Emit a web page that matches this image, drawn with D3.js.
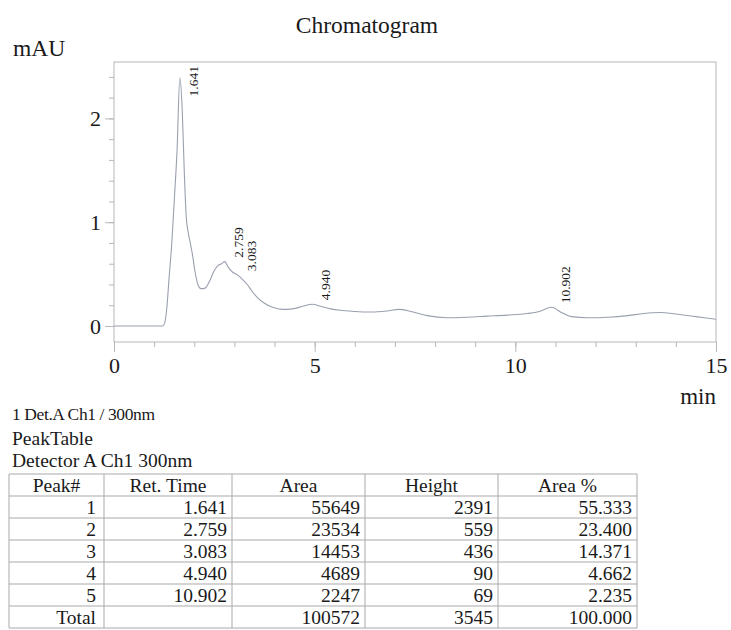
<!DOCTYPE html>
<html>
<head>
<meta charset="utf-8">
<script src="https://cdn.jsdelivr.net/npm/d3@7"></script>
<style>
  html, body { margin: 0; padding: 0; background: #ffffff; }
  svg { display: block; font-family: "Liberation Serif", "Times New Roman", serif; }
</style>
</head>
<body>
<svg id="chart" width="731" height="630"></svg>
<script>
// Detector trace: retention time (min) and absorbance (mAU)
const traceTime = [0, 0.6, 1.2, 1.24, 1.28, 1.32, 1.37, 1.44, 1.50, 1.57, 1.641, 1.70, 1.75, 1.80, 1.85, 1.90, 1.95,
  2.02, 2.09, 2.17, 2.27, 2.38, 2.48, 2.58, 2.68, 2.759, 2.84, 2.95, 3.083, 3.2, 3.32, 3.45, 3.58, 3.75, 3.95,
  4.2, 4.45, 4.7, 4.94, 5.15, 5.4, 5.7, 6.0, 6.4, 6.8, 7.1, 7.4, 7.8, 8.3, 8.8, 9.3, 9.8, 10.3, 10.6, 10.902,
  11.15, 11.4, 11.8, 12.3, 12.8, 13.2, 13.6, 14.0, 14.5, 15.0];
const traceAbs = [0, 0, 0, 0.01, 0.06, 0.19, 0.45, 0.8, 1.2, 1.68, 2.391, 2.08, 1.5, 1.05, 0.9, 0.8, 0.7,
  0.52, 0.4, 0.36, 0.365, 0.43, 0.52, 0.58, 0.6, 0.62, 0.57, 0.52, 0.49, 0.45, 0.4, 0.33, 0.27, 0.22, 0.18,
  0.16, 0.165, 0.19, 0.21, 0.19, 0.165, 0.15, 0.14, 0.135, 0.145, 0.16, 0.14, 0.1, 0.08, 0.085, 0.095, 0.105, 0.12, 0.14, 0.18,
  0.13, 0.09, 0.08, 0.085, 0.1, 0.12, 0.13, 0.115, 0.09, 0.065];

// Peak table
const peakNo = [1, 2, 3, 4, 5];
const retTimes = [1.641, 2.759, 3.083, 4.940, 10.902];
const areas = [55649, 23534, 14453, 4689, 2247];
const heights = [2391, 559, 436, 90, 69];
const areaPct = [55.333, 23.400, 14.371, 4.662, 2.235];
const totalRow = ["Total", "", "100572", "3545", "100.000"];
const tableHeaders = ["Peak#", "Ret. Time", "Area", "Height", "Area %"];

// Axis ticks
const xMajorTicks = [0, 5, 10, 15];
const xMinorTicks = d3.range(0, 16, 1);
const yMajorTicks = [0, 1, 2];
const yMinorTicks = d3.range(0, 2.41, 0.2);

const svg = d3.select("#chart");
const ink = "#1a1a1a";
const frameColor = "#b8b8b8";

const plot = { left: 114, right: 716, top: 62, bottom: 342 };

const x = d3.scaleLinear().domain([0, 15]).range([plot.left, plot.right]);
const yBase = d3.scaleLinear().domain([0, 2]).range([326, 118.4]);
const y = d3.scaleLinear()
  .domain([yBase.invert(plot.bottom), yBase.invert(plot.top)])
  .range([plot.bottom, plot.top]);

// Titles
svg.append("text").attr("x", 367).attr("y", 33).attr("text-anchor", "middle")
  .attr("font-size", 23.5).attr("fill", ink).text("Chromatogram");
svg.append("text").attr("x", 13).attr("y", 56)
  .attr("font-size", 23.5).attr("fill", ink).text("mAU");

// Frame
svg.append("rect")
  .attr("x", plot.left).attr("y", plot.top)
  .attr("width", plot.right - plot.left).attr("height", plot.bottom - plot.top)
  .attr("fill", "none").attr("stroke", frameColor).attr("stroke-width", 1);

// Y axis: minor ticks, then major ticks with labels
const yMinorAxis = d3.axisLeft(y).tickValues(yMinorTicks).tickSize(5).tickFormat("");
const yMajorAxis = d3.axisLeft(y).tickValues(yMajorTicks).tickSize(9).tickPadding(4).tickFormat(d3.format("d"));
[yMinorAxis, yMajorAxis].forEach(ax => {
  const g = svg.append("g").attr("transform", `translate(${plot.left},0)`).call(ax);
  g.select(".domain").remove();
  g.selectAll("line").attr("stroke", frameColor);
  g.selectAll("text").attr("font-size", 22).attr("fill", ink)
    .attr("font-family", "Liberation Serif, serif");
});

// X axis
const xMinorAxis = d3.axisBottom(x).tickValues(xMinorTicks).tickSize(5).tickFormat("");
const xMajorAxis = d3.axisBottom(x).tickValues(xMajorTicks).tickSize(10).tickPadding(5).tickFormat(d3.format("d"));
[xMinorAxis, xMajorAxis].forEach(ax => {
  const g = svg.append("g").attr("transform", `translate(0,${plot.bottom})`).call(ax);
  g.select(".domain").remove();
  g.selectAll("line").attr("stroke", frameColor);
  g.selectAll("text").attr("font-size", 22).attr("fill", ink)
    .attr("font-family", "Liberation Serif, serif");
});
svg.append("text").attr("x", 716).attr("y", 404).attr("text-anchor", "end")
  .attr("font-size", 23).attr("fill", ink).text("min");

// Trace
const points = traceTime.map((t, i) => [t, traceAbs[i]]);
const line = d3.line().x(d => x(d[0])).y(d => y(d[1])).curve(d3.curveMonotoneX);
svg.append("path").datum(points)
  .attr("d", line)
  .attr("fill", "none").attr("stroke", "#9aa0ae").attr("stroke-width", 1.1);

// Peak labels, rotated, placed beside each apex
const bis = d3.bisector(d => d).left;
const labelSize = 13.5;
retTimes.forEach(t => {
  const idx = bis(traceTime, t);
  const apex = traceAbs[idx];
  const label = t.toFixed(3);
  const g = svg.append("text")
    .attr("font-size", labelSize).attr("fill", ink).attr("text-anchor", "start")
    .text(label);
  const len = g.node().getComputedTextLength();
  const startY = Math.max(y(apex) - 4, plot.top + 4 + len);
  g.attr("transform", `translate(${x(t) + 18},${startY}) rotate(-90)`);
});

// Captions above the table
svg.append("text").attr("x", 12).attr("y", 420).attr("font-size", 17.5).attr("fill", ink)
  .attr("letter-spacing", -0.4).text("1 Det.A Ch1 / 300nm");
svg.append("text").attr("x", 12).attr("y", 445).attr("font-size", 19.5).attr("fill", ink).text("PeakTable");
svg.append("text").attr("x", 12).attr("y", 467).attr("font-size", 19.5).attr("fill", ink).text("Detector A Ch1 300nm");

// Peak table
const colEdges = [9, 104, 232, 365, 498, 637];
const rowTop = 474, rowH = 22;
const fmtInt = d3.format("d");
const rows = peakNo.map((p, i) => [String(p), retTimes[i].toFixed(3), fmtInt(areas[i]), fmtInt(heights[i]), areaPct[i].toFixed(3)]);
rows.push(totalRow);
const nRows = rows.length + 1;
const tableBottom = rowTop + nRows * rowH;

const tg = svg.append("g");
const gridColor = "#a9a9a9";
d3.range(nRows + 1).forEach(r => {
  tg.append("line").attr("x1", colEdges[0]).attr("x2", colEdges[colEdges.length - 1])
    .attr("y1", rowTop + r * rowH).attr("y2", rowTop + r * rowH)
    .attr("stroke", gridColor).attr("stroke-width", 1);
});
colEdges.forEach(cx => {
  tg.append("line").attr("x1", cx).attr("x2", cx).attr("y1", rowTop).attr("y2", tableBottom)
    .attr("stroke", gridColor).attr("stroke-width", 1);
});
tableHeaders.forEach((h, c) => {
  tg.append("text").attr("x", (colEdges[c] + colEdges[c + 1]) / 2).attr("y", rowTop + rowH - 4)
    .attr("text-anchor", "middle").attr("font-size", 19.5).attr("fill", ink).text(h);
});
rows.forEach((row, r) => {
  row.forEach((v, c) => {
    tg.append("text").attr("x", colEdges[c + 1] - (c === 0 ? 8 : 5)).attr("y", rowTop + (r + 2) * rowH - 4)
      .attr("text-anchor", "end").attr("font-size", 19.5).attr("fill", ink).text(v);
  });
});
</script>
</body>
</html>
